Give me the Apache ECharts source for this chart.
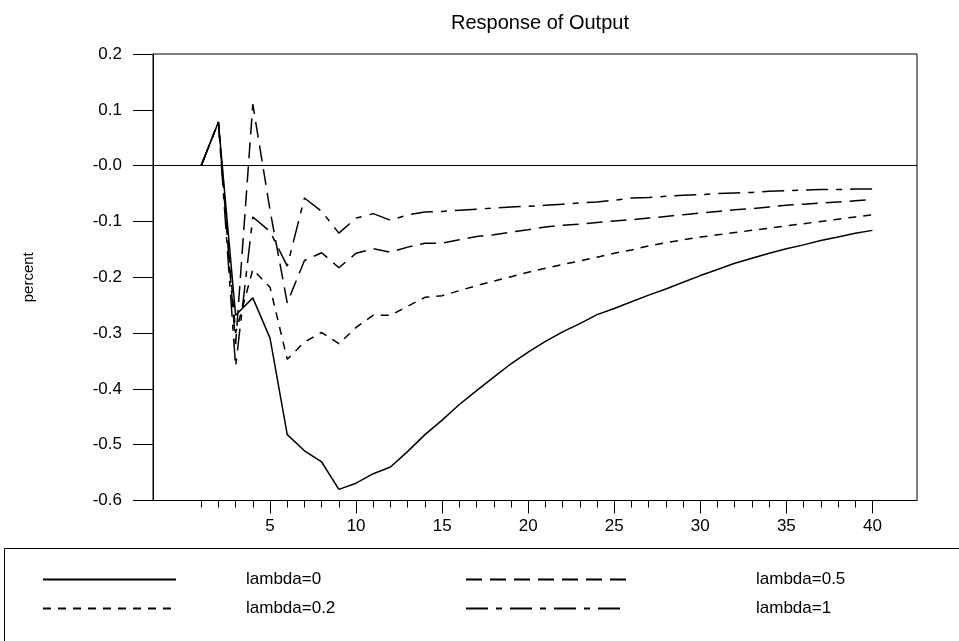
<!DOCTYPE html>
<html><head><meta charset="utf-8">
<script src="https://cdn.jsdelivr.net/npm/echarts@6/dist/echarts.min.js"></script>
<style>html,body{margin:0;padding:0;background:#fff}#c{width:959px;height:641px}</style>
</head><body><div id="c"></div>
<script>
const periods = [1,2,3,4,5,6,7,8,9,10,11,12,13,14,15,16,17,18,19,20,21,22,23,24,25,26,27,28,29,30,31,32,33,34,35,36,37,38,39,40];
const lambda0 = [0,0.078,-0.268,-0.237,-0.309,-0.482,-0.511,-0.531,-0.580,-0.569,-0.552,-0.540,-0.512,-0.482,-0.456,-0.428,-0.403,-0.379,-0.355,-0.334,-0.315,-0.298,-0.283,-0.267,-0.256,-0.244,-0.232,-0.221,-0.209,-0.197,-0.186,-0.175,-0.166,-0.157,-0.149,-0.142,-0.134,-0.128,-0.121,-0.116];
const lambda02 = [0,0.078,-0.300,-0.186,-0.218,-0.347,-0.316,-0.299,-0.319,-0.290,-0.268,-0.268,-0.252,-0.236,-0.233,-0.224,-0.215,-0.207,-0.199,-0.191,-0.184,-0.177,-0.171,-0.164,-0.157,-0.151,-0.144,-0.138,-0.133,-0.128,-0.124,-0.120,-0.116,-0.112,-0.108,-0.104,-0.100,-0.096,-0.092,-0.088];
const lambda05 = [0,0.078,-0.320,0.110,-0.080,-0.246,-0.170,-0.156,-0.183,-0.157,-0.149,-0.155,-0.146,-0.139,-0.139,-0.133,-0.127,-0.124,-0.119,-0.115,-0.110,-0.107,-0.105,-0.102,-0.099,-0.097,-0.094,-0.091,-0.088,-0.085,-0.082,-0.079,-0.077,-0.074,-0.071,-0.069,-0.067,-0.065,-0.063,-0.061];
const lambda1 = [0,0.078,-0.360,-0.092,-0.118,-0.180,-0.058,-0.082,-0.121,-0.094,-0.086,-0.098,-0.088,-0.083,-0.082,-0.080,-0.078,-0.076,-0.074,-0.073,-0.071,-0.069,-0.067,-0.065,-0.062,-0.058,-0.057,-0.055,-0.053,-0.052,-0.050,-0.049,-0.048,-0.046,-0.045,-0.044,-0.043,-0.043,-0.042,-0.042];
const yTickValues = [0.2,0.1,0,-0.1,-0.2,-0.3,-0.4,-0.5,-0.6];
const yTickLabels = ['0.2','0.1','-0.0','-0.1','-0.2','-0.3','-0.4','-0.5','-0.6'];
const xMajorTicks = [5,10,15,20,25,30,35,40];
const seriesNames = ['lambda=0','lambda=0.2','lambda=0.5','lambda=1'];
const titleText = 'Response of Output';
const yName = 'percent';

const FONT = 'Liberation Sans, Arial, sans-serif';
const chart = echarts.init(document.getElementById('c'), null, {renderer:'canvas'});
const pairs = v => periods.map((p,i)=>[p, v[i]]);
const lineBase = {type:'line', symbol:'none', showSymbol:false, xAxisIndex:0, yAxisIndex:0, animation:false, silent:true};
const txt = pad => ({fontSize:17, fontFamily:FONT, color:'#000', padding:[0,0,0,pad]});
const legendCommon = {selectedMode:false, itemHeight:14, itemGap:0, padding:0,
  itemStyle:{opacity:0, borderWidth:0}, lineStyle:{opacity:1}};

chart.setOption({
  animation:false,
  backgroundColor:'#fff',
  title:{text:titleText, left:535, textAlign:'center', top:8,
    textStyle:{fontSize:20, fontWeight:'normal', fontFamily:FONT, color:'#000'}},
  grid:{left:153, top:54, width:764, height:446.5, show:true, borderColor:'#000', borderWidth:1, containLabel:false},
  xAxis:[
    {type:'value', min:-1.8, max:42.59, position:'bottom',
     axisLine:{show:true, onZero:false, lineStyle:{color:'#000', width:1}},
     axisTick:{show:true, inside:false, length:7, customValues:periods, lineStyle:{color:'#000', width:1}},
     axisLabel:{show:true, customValues:xMajorTicks, margin:17, fontSize:17, fontFamily:FONT, color:'#000'},
     splitLine:{show:false}},
    {type:'value', min:-1.8, max:42.59, position:'bottom', gridIndex:0,
     axisLine:{show:false, onZero:false},
     axisTick:{show:true, inside:false, length:13, customValues:xMajorTicks, lineStyle:{color:'#000', width:1}},
     axisLabel:{show:false}, splitLine:{show:false}}
  ],
  yAxis:{type:'value', min:-0.6, max:0.2, interval:0.1, name:yName, nameLocation:'middle', nameGap:117,
    nameTextStyle:{fontSize:15, fontFamily:FONT, color:'#000'},
    axisLine:{show:true, onZero:false, lineStyle:{color:'#000', width:1}},
    axisTick:{show:true, length:20, lineStyle:{color:'#000', width:1}},
    axisLabel:{margin:31, fontSize:17, fontFamily:FONT, color:'#000',
      formatter:function(v){ for(let i=0;i<yTickValues.length;i++){ if(Math.abs(yTickValues[i]-v)<1e-9) return yTickLabels[i]; } return ''; }},
    splitLine:{show:false}},
  legend:[
    Object.assign({}, legendCommon, {data:[seriesNames[0]], left:42, top:571, itemWidth:133, textStyle:txt(65)}),
    Object.assign({}, legendCommon, {data:[seriesNames[2]], left:465, top:571, itemWidth:160, textStyle:txt(125)}),
    Object.assign({}, legendCommon, {data:[seriesNames[1]], left:42, top:600, itemWidth:133, textStyle:txt(65)}),
    Object.assign({}, legendCommon, {data:[seriesNames[3]], left:465, top:600, itemWidth:160, textStyle:txt(125)})
  ],
  graphic:[{type:'rect', silent:true, shape:{x:4.5, y:548.5, width:1000, height:200}, style:{fill:'none', stroke:'#000', lineWidth:1}}],
  series:[
    Object.assign({}, lineBase, {name:seriesNames[0], data:pairs(lambda0), z:5,
      lineStyle:{color:'#000', width:1.5, type:'solid'}, itemStyle:{color:'#000'},
      markLine:{silent:true, symbol:['none','none'], label:{show:false}, animation:false,
        lineStyle:{color:'#000', type:'solid', width:1}, data:[{yAxis:0}]}}),
    Object.assign({}, lineBase, {name:seriesNames[1], data:pairs(lambda02),
      lineStyle:{color:'#000', width:1.5, type:[8,7]}, itemStyle:{color:'#000'}}),
    Object.assign({}, lineBase, {name:seriesNames[2], data:pairs(lambda05),
      lineStyle:{color:'#000', width:1.5, type:[16,8]}, itemStyle:{color:'#000'}}),
    Object.assign({}, lineBase, {name:seriesNames[3], data:pairs(lambda1),
      lineStyle:{color:'#000', width:1.5, type:[22,8,6,8]}, itemStyle:{color:'#000'}})
  ]
});
</script></body></html>
